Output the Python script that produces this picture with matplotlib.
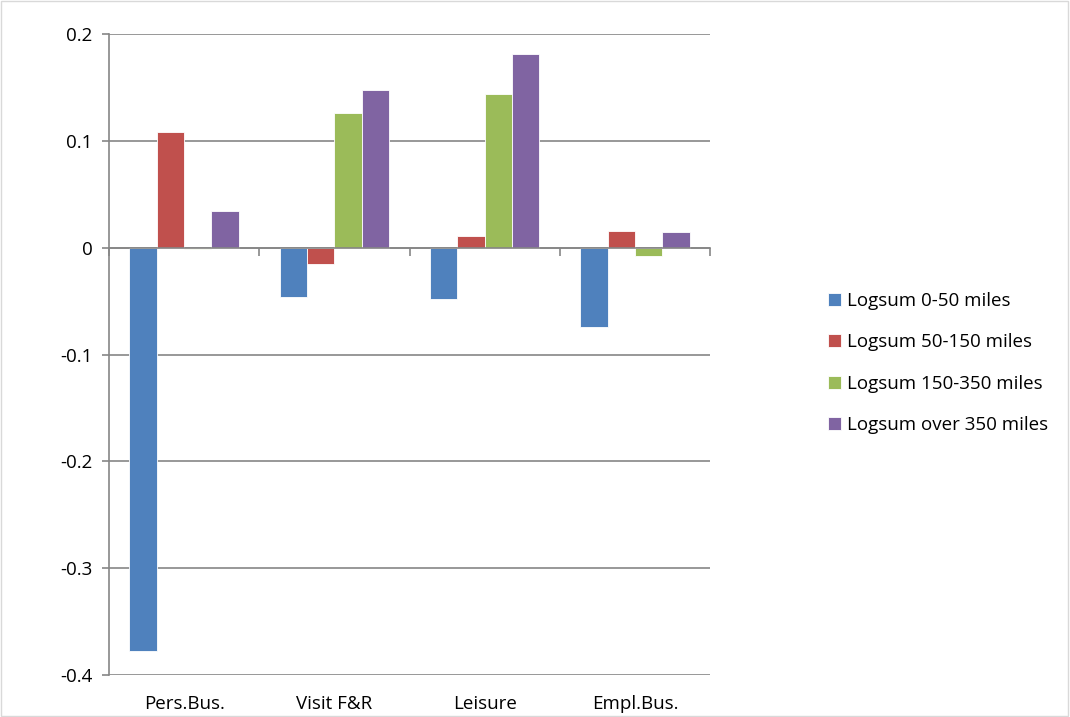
import matplotlib.pyplot as plt
from matplotlib.patches import Rectangle
import numpy as np

categories = ['Pers.Bus.', 'Visit F&R', 'Leisure', 'Empl.Bus.']
series_names = ['Logsum 0-50 miles', 'Logsum 50-150 miles',
                'Logsum 150-350 miles', 'Logsum over 350 miles']
logsum_0_50 = [-0.378, -0.046, -0.048, -0.074]
logsum_50_150 = [0.108, -0.015, 0.011, 0.016]
logsum_150_350 = [-0.001, 0.126, 0.144, -0.008]
logsum_over_350 = [0.034, 0.148, 0.181, 0.015]
colors = ['#4f81bd', '#c0504d', '#9bbb59', '#8064a2']

plt.rcParams['font.family'] = ['Open Sans', 'DejaVu Sans']

fig = plt.figure(figsize=(10.7, 7.17), dpi=100)
ax = fig.add_axes([109 / 1070, 42 / 717, 601 / 1070, 641 / 717])

x = np.arange(len(categories))
w = 1 / 5.5
all_series = [logsum_0_50, logsum_50_150, logsum_150_350, logsum_over_350]
for i, vals in enumerate(all_series):
    ax.bar(x + (i - 1.5) * w, vals, width=w, color=colors[i],
           edgecolor='white', linewidth=0.6, label=series_names[i], zorder=3)

ax.set_xlim(-0.5, len(categories) - 0.5)
ax.set_ylim(-0.4, 0.2)
ax.set_yticks(np.arange(-0.4, 0.21, 0.1))
ax.set_yticklabels(['-0.4', '-0.3', '-0.2', '-0.1', '0', '0.1', '0.2'])
ax.yaxis.grid(True, color='#868686', linewidth=1.2, zorder=0)

for s in ['top', 'right']:
    ax.spines[s].set_visible(False)
ax.spines['left'].set_color('#868686')
ax.spines['left'].set_linewidth(1.2)
ax.spines['bottom'].set_position(('data', 0))
ax.spines['bottom'].set_color('#868686')
ax.spines['bottom'].set_linewidth(1.2)
ax.spines['bottom'].set_zorder(4)

ax.set_xticks(np.arange(len(categories) + 1) - 0.5)
ax.set_xticklabels([])
ax.tick_params(axis='x', direction='out', length=6, color='#868686', width=1.2)
ax.tick_params(axis='y', direction='out', length=5, color='#868686', width=1.2,
               labelsize=13.5, pad=7)

for i, c in enumerate(categories):
    ax.text(i, -0.045, c, transform=ax.get_xaxis_transform(),
            ha='center', va='center', fontsize=13.5)

ax.legend(loc='center left', bbox_to_anchor=(811 / 1070, 354 / 717),
          bbox_transform=fig.transFigure, frameon=False, fontsize=13.5,
          handlelength=0.7, handleheight=0.7, handletextpad=0.3,
          labelspacing=1.25)

fig.patches.append(Rectangle((0.001, 0.001), 0.997, 0.997, transform=fig.transFigure,
                             fill=False, edgecolor='#d9d9d9', linewidth=1))

fig.savefig('out.png', dpi=100)
